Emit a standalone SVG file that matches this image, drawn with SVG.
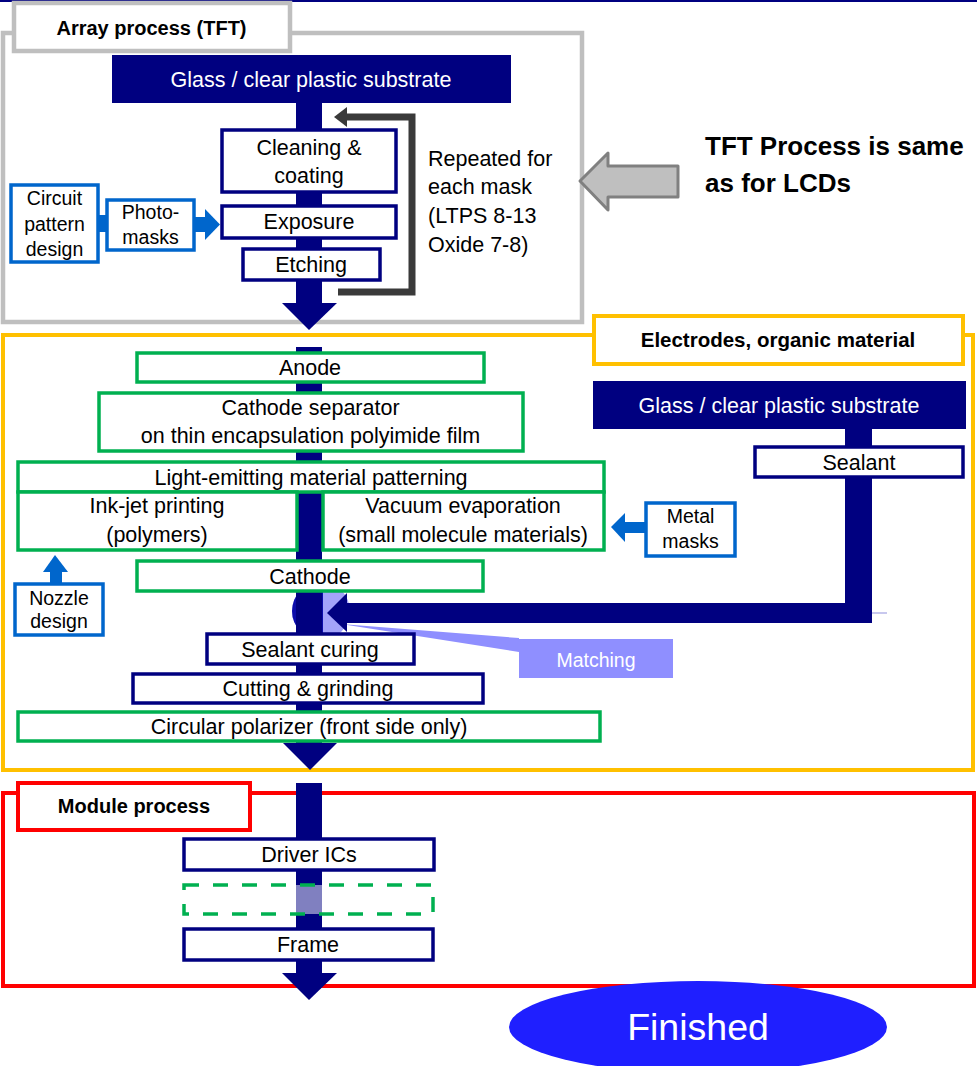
<svg xmlns="http://www.w3.org/2000/svg" width="977" height="1066" viewBox="0 0 977 1066">
  <style>
    text { font-family: "Liberation Sans", Arial, sans-serif; fill: #000; text-anchor: middle; }
    .t { font-size: 21.5px; }
    .s { font-size: 19.5px; }
    .b { font-weight: bold; font-size: 20px; }
    .w { fill: #ffffff; }
    .navyBox { fill: #ffffff; stroke: #000080; stroke-width: 3.5; }
    .greenBox { fill: #ffffff; stroke: #00B050; stroke-width: 3.5; }
    .blueBox { fill: #ffffff; stroke: #0066CC; stroke-width: 3.5; }
    .navy { fill: #000080; }
    .blue { fill: #0066CC; }
  </style>
  <defs>
    <clipPath id="matchClip">
      <circle cx="321" cy="611" r="29"/>
    </clipPath>
  </defs>

  <rect x="0" y="0" width="977" height="2" fill="#000080"/>

  <!-- Section frames -->
  <g id="array-section">
    <rect x="3" y="33" width="579" height="289" fill="none" stroke="#BFBFBF" stroke-width="4.5"/>
    <rect x="14" y="3" width="276" height="48" fill="#ffffff" stroke="#BFBFBF" stroke-width="4.5"/>
    <text class="b" x="151.5" y="35">Array process (TFT)</text>
  </g>
  <g id="electrodes-section">
    <rect x="3" y="335" width="970" height="435" fill="none" stroke="#FFC000" stroke-width="4"/>
    <rect x="594" y="316" width="369" height="48" fill="#ffffff" stroke="#FFC000" stroke-width="4"/>
    <text class="b" x="778" y="347" style="font-size:20.5px">Electrodes, organic material</text>
  </g>
  <g id="module-section">
    <rect x="3" y="793" width="971" height="193" fill="none" stroke="#FF0000" stroke-width="4"/>
    <rect x="18" y="783" width="232" height="47" fill="#ffffff" stroke="#FF0000" stroke-width="4"/>
    <text class="b" x="134" y="813">Module process</text>
  </g>

  <!-- Connectors: main flow trunk, feeds and loop -->
  <g id="connectors">
    <!-- array trunk -->
    <rect class="navy" x="296" y="100" width="26" height="205"/>
    <polygon class="navy" points="282,303 337,303 309,330"/>
    <!-- repeat loop -->
    <polyline points="338,292 412,292 412,117 345,117" fill="none" stroke="#3A3A3A" stroke-width="7"/>
    <polygon points="334,117 347,107 347,127" fill="#3A3A3A"/>
    <!-- design inputs -->
    <rect class="blue" x="96" y="215" width="12" height="17"/>
    <rect class="blue" x="193" y="217" width="14" height="15"/>
    <polygon class="blue" points="205,209 220,224.5 205,240"/>
    <!-- TFT same-as-LCD hint arrow -->
    <polygon points="580,181 608,153 608,166 678,166 678,197 608,197 608,210" fill="#BFBFBF" stroke="#808080" stroke-width="3" stroke-linejoin="round"/>

    <!-- matching marker and callout pointer -->
    <circle cx="321" cy="611" r="29" fill="#A3A3FA"/>
    <rect x="290" y="580" width="33" height="62" fill="#0C0CAA" clip-path="url(#matchClip)"/>
    <polygon points="341,624 519,638 519,652" fill="#8F8FFF"/>

    <!-- electrodes trunk -->
    <rect class="navy" x="296" y="347" width="26" height="398"/>
    <polygon class="navy" points="283,743 337,743 310,770"/>
    <!-- encapsulation substrate feed -->
    <rect class="navy" x="845" y="426" width="27" height="197"/>
    <rect class="navy" x="345" y="603" width="527" height="20"/>
    <polygon class="navy" points="327,613 347,593 347,632"/>
    <line x1="872" y1="613" x2="887" y2="613" stroke="#C8C8EE" stroke-width="2"/>
    <!-- mask / nozzle inputs -->
    <rect class="blue" x="623" y="522" width="23" height="11"/>
    <polygon class="blue" points="611,527 625,513 625,542"/>
    <rect class="blue" x="50" y="570" width="12" height="14"/>
    <polygon class="blue" points="55,555 68,572 43,572"/>

    <!-- module trunk -->
    <rect class="navy" x="296" y="783" width="26" height="192"/>
    <polygon class="navy" points="282,973 337,973 309,1000"/>
  </g>

  <!-- Array process nodes -->
  <g id="glass-substrate-1">
    <rect class="navy" x="112" y="55" width="399" height="48"/>
    <text class="t w" x="311" y="87">Glass / clear plastic substrate</text>
  </g>
  <g id="cleaning-coating">
    <rect class="navyBox" x="222" y="130" width="174" height="62"/>
    <text class="t" x="309" y="155">Cleaning &amp;</text>
    <text class="t" x="309" y="183">coating</text>
  </g>
  <g id="exposure">
    <rect class="navyBox" x="222" y="206" width="174" height="32"/>
    <text class="t" x="309" y="229">Exposure</text>
  </g>
  <g id="etching">
    <rect class="navyBox" x="243" y="249" width="137" height="31"/>
    <text class="t" x="311" y="272">Etching</text>
  </g>
  <g id="circuit-design">
    <rect class="blueBox" x="11" y="185" width="87" height="77"/>
    <text class="s" x="54.5" y="205">Circuit</text>
    <text class="s" x="54.5" y="231">pattern</text>
    <text class="s" x="54.5" y="256">design</text>
  </g>
  <g id="photomasks">
    <rect class="blueBox" x="107" y="200" width="87" height="50"/>
    <text class="s" x="150.5" y="219">Photo-</text>
    <text class="s" x="150.5" y="244">masks</text>
  </g>
  <g id="repeat-note">
    <text class="t" x="428" y="166" style="text-anchor:start">Repeated for</text>
    <text class="t" x="428" y="194" style="text-anchor:start">each mask</text>
    <text class="t" x="428" y="223" style="text-anchor:start">(LTPS 8-13</text>
    <text class="t" x="428" y="252" style="text-anchor:start">Oxide 7-8)</text>
  </g>
  <g id="tft-note">
    <text x="705" y="155" style="text-anchor:start;font-weight:bold;font-size:26px">TFT Process is same</text>
    <text x="705" y="192" style="text-anchor:start;font-weight:bold;font-size:26px">as for LCDs</text>
  </g>

  <!-- Electrodes / organic material nodes -->
  <g id="anode">
    <rect class="greenBox" x="137" y="353" width="347" height="29"/>
    <text class="t" x="310" y="375">Anode</text>
  </g>
  <g id="cathode-separator">
    <rect class="greenBox" x="99" y="393" width="424" height="58"/>
    <text class="t" x="310.5" y="415">Cathode separator</text>
    <text class="t" x="310.5" y="443">on thin encapsulation polyimide film</text>
  </g>
  <g id="light-emitting-patterning">
    <rect class="greenBox" x="18" y="462" width="586" height="30"/>
    <text class="t" x="311" y="485">Light-emitting material patterning</text>
  </g>
  <g id="inkjet-printing">
    <rect class="greenBox" x="18" y="492" width="279" height="58"/>
    <text class="t" x="157" y="513">Ink-jet printing</text>
    <text class="t" x="157" y="542">(polymers)</text>
  </g>
  <g id="vacuum-evaporation">
    <rect class="greenBox" x="323" y="492" width="281" height="58"/>
    <text class="t" x="463" y="513">Vacuum evaporation</text>
    <text class="t" x="463" y="542">(small molecule materials)</text>
  </g>
  <g id="metal-masks">
    <rect class="blueBox" x="646" y="503" width="89" height="53"/>
    <text class="s" x="690.5" y="523">Metal</text>
    <text class="s" x="690.5" y="548">masks</text>
  </g>
  <g id="nozzle-design">
    <rect class="blueBox" x="15" y="584" width="88" height="51"/>
    <text class="s" x="59" y="605">Nozzle</text>
    <text class="s" x="59" y="628">design</text>
  </g>
  <g id="cathode">
    <rect class="greenBox" x="137" y="561" width="346" height="30"/>
    <text class="t" x="310" y="584">Cathode</text>
  </g>
  <g id="glass-substrate-2">
    <rect class="navy" x="593" y="381" width="373" height="48"/>
    <text class="t w" x="779" y="413">Glass / clear plastic substrate</text>
  </g>
  <g id="sealant">
    <rect class="navyBox" x="755" y="447" width="208" height="30"/>
    <text class="t" x="859" y="470">Sealant</text>
  </g>
  <g id="matching">
    <rect x="519" y="639" width="154" height="39" fill="#8F8FFF"/>
    <text class="s w" x="596" y="667">Matching</text>
  </g>
  <g id="sealant-curing">
    <rect class="navyBox" x="207" y="634" width="207" height="30"/>
    <text class="t" x="310" y="657">Sealant curing</text>
  </g>
  <g id="cutting-grinding">
    <rect class="navyBox" x="133" y="674" width="350" height="29"/>
    <text class="t" x="308" y="696">Cutting &amp; grinding</text>
  </g>
  <g id="circular-polarizer">
    <rect class="greenBox" x="18" y="712" width="582" height="29"/>
    <text class="t" x="309" y="734">Circular polarizer (front side only)</text>
  </g>

  <!-- Module process nodes -->
  <g id="driver-ics">
    <rect class="navyBox" x="184" y="839" width="250" height="31"/>
    <text class="t" x="309" y="862">Driver ICs</text>
  </g>
  <g id="optional-step">
    <rect x="184" y="885" width="249" height="29" fill="#ffffff" fill-opacity="0.5" stroke="#00B050" stroke-width="3.5" stroke-dasharray="15 14"/>
  </g>
  <g id="frame">
    <rect class="navyBox" x="184" y="929" width="249" height="31"/>
    <text class="t" x="308" y="952">Frame</text>
  </g>
  <g id="finished">
    <ellipse cx="698" cy="1027" rx="189" ry="46" fill="#1F1FFF"/>
    <text class="w" x="698" y="1040" style="font-size:37.5px">Finished</text>
  </g>
</svg>
